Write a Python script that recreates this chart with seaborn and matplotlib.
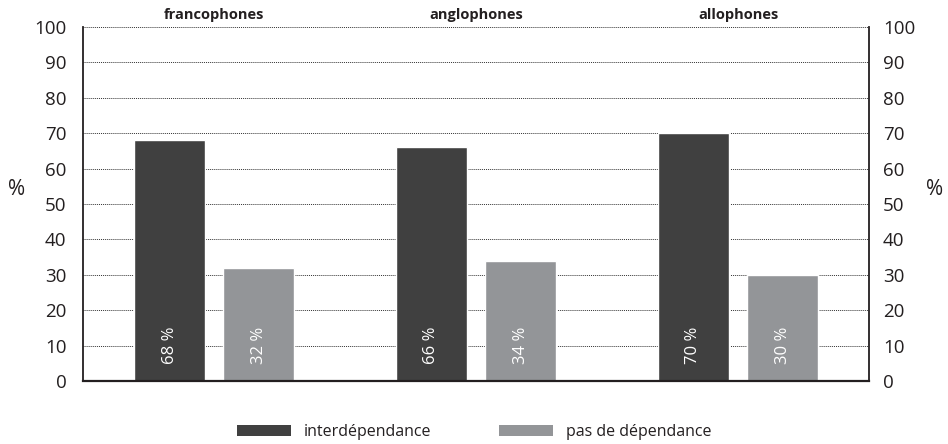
import pandas as pd
import numpy as np
import matplotlib
matplotlib.use('Agg')
import matplotlib.pyplot as plt
import seaborn as sns
from matplotlib.patches import Patch

# ============================================================================
# DATA
# ============================================================================
groups = ['francophones', 'anglophones', 'allophones']
series = ['interdépendance', 'pas de dépendance']
interdependance = [68, 66, 70]
pas_de_dependance = [32, 34, 30]
y_ticks = [0, 10, 20, 30, 40, 50, 60, 70, 80, 90, 100]

colors = ['#404040', '#939598']
text_color = '#231f20'

df = pd.DataFrame({
    'groupe': groups * 2,
    'type': [series[0]] * 3 + [series[1]] * 3,
    'valeur': interdependance + pas_de_dependance,
})

sns.set_style('white')
plt.rcParams['font.family'] = ['Open Sans', 'DejaVu Sans']

fig = plt.figure(figsize=(9.48, 4.44), dpi=100)
ax = fig.add_axes([0.0876, 0.1419, 0.8291, 0.7973])

sns.barplot(data=df, x='groupe', y='valeur', hue='type', order=groups,
            hue_order=series, palette=colors, width=0.68, gap=0.2,
            saturation=1, legend=False, ax=ax)

ax.set_ylim(0, 100)
ax.set_xlim(-0.5, 2.5)
ax.set_yticks(y_ticks)
ax.set_xticks([])
ax.set_xlabel('')
ax.set_ylabel('')
ax.tick_params(axis='y', length=0, pad=12, labelsize=13.5, labelcolor=text_color)

# dotted grid
for t in y_ticks[1:]:
    ax.axhline(t, color='#333333', linestyle=(0, (1, 1)), linewidth=0.7, zorder=0)
ax.set_axisbelow(True)

ax.spines['top'].set_visible(False)
ax.spines['left'].set_color(text_color)
ax.spines['left'].set_linewidth(1.3)
ax.spines['right'].set_color(text_color)
ax.spines['right'].set_linewidth(1.3)
ax.spines['bottom'].set_color(text_color)
ax.spines['bottom'].set_linewidth(1.6)

# right axis
ax2 = ax.twinx()
ax2.set_ylim(0, 100)
ax2.set_yticks(y_ticks)
ax2.tick_params(axis='y', length=0, pad=10, labelsize=13.5, labelcolor=text_color)
for side in ['top', 'bottom', 'left', 'right']:
    ax2.spines[side].set_visible(False)

# value labels inside bars
for p in ax.patches:
    h = p.get_height()
    if np.isnan(h):
        continue
    ax.text(p.get_x() + p.get_width() / 2, 10, f'{int(round(h))} %',
            rotation=90, ha='center', va='center', color='white', fontsize=12)

# group labels at top
for i, g in enumerate(groups):
    ax.text(i, 101.5, g, ha='center', va='bottom', fontsize=10.5,
            fontweight='bold', color=text_color)

# % labels
ax.text(-0.084, 0.54, '%', transform=ax.transAxes, ha='center', va='center',
        fontsize=15, color=text_color)
ax.text(1.083, 0.54, '%', transform=ax.transAxes, ha='center', va='center',
        fontsize=15, color=text_color)

handles = [Patch(facecolor=c, edgecolor='none') for c in colors]
fig.legend(handles, series, loc='center', bbox_to_anchor=(0.5, 0.027),
           ncol=2, frameon=False, fontsize=11.5, handlelength=3.4,
           handleheight=0.75, handletextpad=0.8, columnspacing=4.2,
           labelcolor=text_color)

plt.savefig('out.png', dpi=100)
